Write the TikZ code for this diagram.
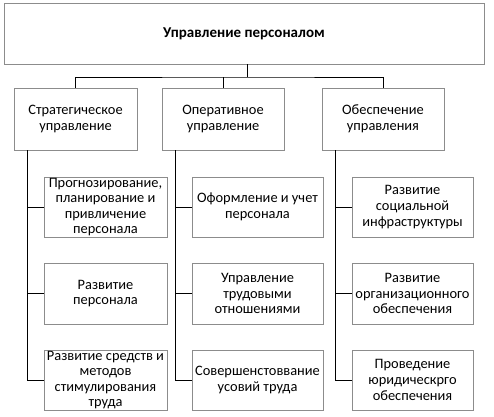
\documentclass[tikz,border=0pt]{standalone}
\usepackage{fontspec}
\setmainfont{Carlito}
\begin{document}
\begin{tikzpicture}[x=1pt,y=-1pt,
  box/.style={draw=black!45,line width=0.9pt,fill=white,align=center,inner sep=0pt,
    font=\fontsize{14.4}{15.6}\selectfont,text=black},
  conn/.style={draw=black,line width=1pt}]
\useasboundingbox (0,0) rectangle (494,416);
% top
\node[box,minimum width=480,minimum height=61,font=\fontsize{15}{16}\selectfont\bfseries] (top) at (244,33.5) {Управление персоналом};
% level 2
\node[box,minimum width=123,minimum height=62] (s) at (75.5,119) {Стратегическое\\управление};
\node[box,minimum width=122,minimum height=62] (o) at (223,119) {Оперативное\\управление};
\node[box,minimum width=122,minimum height=62] (e) at (383,119) {Обеспечение\\управления};
% children col 1
\node[box,minimum width=123,minimum height=60] (s1) at (105.5,207) {Прогнозирование,\\планирование и\\привличение\\персонала};
\node[box,minimum width=123,minimum height=61] (s2) at (105.5,293.5) {Развитие\\персонала};
\node[box,minimum width=123,minimum height=60] (s3) at (105.5,380) {Развитие средств и\\методов\\стимулирования\\труда};
% col 2
\node[box,minimum width=131,minimum height=60] (o1) at (257.5,207) {Оформление и учет\\персонала};
\node[box,minimum width=131,minimum height=61] (o2) at (257.5,293.5) {Управление\\трудовыми\\отношениями};
\node[box,minimum width=131,minimum height=60] (o3) at (257.5,380) {Совершенстоввание\\усовий труда};
% col 3
\node[box,minimum width=121,minimum height=60] (e1) at (412.5,207) {Развитие\\социальной\\инфраструктуры};
\node[box,minimum width=121,minimum height=61] (e2) at (412.5,293.5) {Развитие\\организационного\\обеспечения};
\node[box,minimum width=121,minimum height=60] (e3) at (412.5,380) {Проведение\\юридическрго\\обеспечения};
% connectors top
\coordinate (j) at (247,77);
\draw[conn] (247,0 |- top.south) -- (j);
\draw[conn] (s.north) |- (j) -| (e.north);
\draw[conn] (o.north) -- (o.north |- j);
% column spines
\coordinate (sx) at (27,150);
\coordinate (ox) at (175,150);
\coordinate (ex) at (335,150);
\draw[conn] (sx) |- (s3.west);
\draw[conn] (sx |- s1.west) -- (s1.west);
\draw[conn] (sx |- s2.west) -- (s2.west);
\draw[conn] (ox) |- (o3.west);
\draw[conn] (ox |- o1.west) -- (o1.west);
\draw[conn] (ox |- o2.west) -- (o2.west);
\draw[conn] (ex) |- (e3.west);
\draw[conn] (ex |- e1.west) -- (e1.west);
\draw[conn] (ex |- e2.west) -- (e2.west);
\end{tikzpicture}
\end{document}
